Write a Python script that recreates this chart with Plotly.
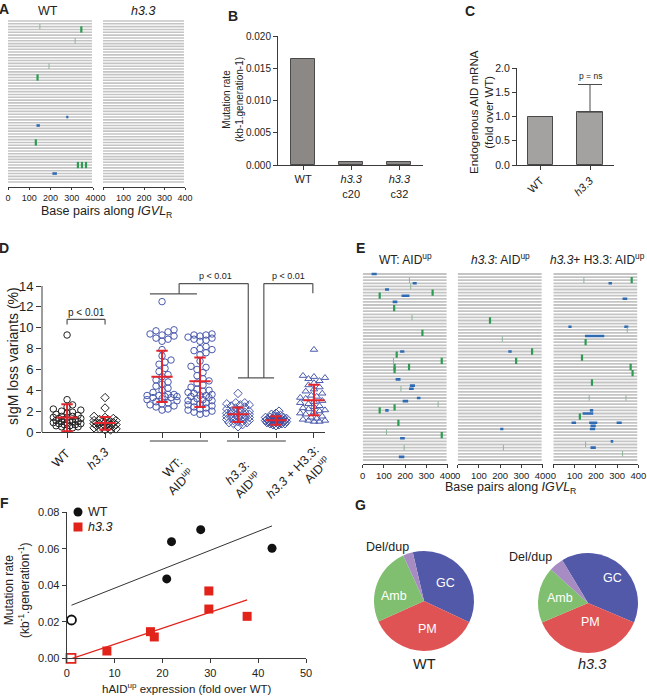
import numpy as np
import plotly.graph_objects as go

W, H = 647, 696
def fx(px): return px / W
def fy(py): return 1 - py / H

FONT = "Liberation Sans, Arial, Helvetica, sans-serif"
INK = "#222222"
AX = "#3a3a3a"
GRAY_SEQ = "#c4c4c4"
BLUE_MUT = "#2f6bb3"
GREEN_MUT = "#2d9c52"
TICK_MUT = "#8db596"

# ---------------- Panel A data ----------------
A_N_SEQ = 58
SEQ_LEN = 395
BP_TICKS = [0, 100, 200, 300, 400]
A_WT_BLUE_ROW = [34, 37, 54]
A_WT_BLUE_START = [274, 134, 209]
A_WT_BLUE_END = [284, 150, 230]
A_WT_GREEN_ROW = [3, 20, 43, 51, 51, 51]
A_WT_GREEN_POS = [345, 139, 131, 329, 348, 367]
A_WT_TICK_ROW = [2, 7, 16]
A_WT_TICK_POS = [150, 316, 193]
A_TITLES = ["WT", "<i>h3.3</i>"]

# ---------------- Panel B data ----------------
B_LABELS = ["WT", "<i>h3.3</i><br>c20", "<i>h3.3</i><br>c32"]
B_VALUES = [0.0164, 0.0005, 0.0004]
B_YTICKS = [0.0, 0.005, 0.010, 0.015, 0.020]

# ---------------- Panel C data ----------------
C_LABELS = ["WT", "<i>h3.3</i>"]
C_VALUES = [1.0, 1.09]
C_ERR_UP = [0.0, 0.57]
C_YTICKS = [0.0, 0.5, 1.0, 1.5, 2.0]

# ---------------- Panel D data ----------------
D_GROUP_X = [0, 1, 2.5, 3.5, 4.5, 5.5, 6.5]
D_WT = [9.3, 3.1, 2.6, 2.4, 2.2, 2.1, 2.0, 1.9, 1.8, 1.7, 1.6, 1.5, 1.5, 1.4, 1.4, 1.3, 1.3, 1.2,
        1.2, 1.1, 1.1, 1.0, 1.0, 1.0, 0.9, 0.9, 0.8, 0.8, 0.7, 0.7, 0.6, 0.6, 0.5, 0.5, 0.4, 0.3]
D_H33 = [3.3, 2.3, 1.5, 1.4, 1.3, 1.2, 1.2, 1.1, 1.1, 1.0, 1.0, 0.9, 0.9, 0.9, 0.8, 0.8, 0.8, 0.7,
         0.7, 0.6, 0.6, 0.5, 0.5, 0.4, 0.4, 0.3, 0.3, 0.2, 0.2]
D_WT_AID1 = [12.5, 9.8, 9.7, 9.6, 9.4, 9.3, 9.2, 9.0, 8.9, 8.7, 7.9, 7.3, 6.9, 6.7, 6.5, 6.1, 5.8,
             5.5, 5.3, 5.0, 4.8, 4.6, 4.4, 4.2, 4.0, 3.8, 3.6, 3.6, 3.5, 3.5, 3.4, 3.4, 3.3, 3.3,
             3.2, 3.1, 3.0, 2.9, 2.8, 2.7, 2.6, 2.5, 2.4, 2.2, 2.1]
D_WT_AID2 = [9.4, 9.3, 9.3, 9.2, 9.1, 9.0, 8.9, 8.8, 8.7, 8.2, 8.0, 7.9, 7.8, 7.6, 7.4, 6.8, 6.3,
             6.2, 6.0, 5.7, 5.4, 5.1, 4.9, 4.7, 4.5, 4.3, 4.1, 4.0, 3.9, 3.8, 3.7, 3.6, 3.5, 3.5,
             3.4, 3.3, 3.2, 3.1, 3.0, 3.0, 2.9, 2.8, 2.7, 2.6, 2.5, 2.4, 2.3, 2.2, 2.1, 2.0, 1.9,
             1.8, 1.7]
D_H33_AID1 = [3.7, 2.8, 2.8, 2.7, 2.6, 2.6, 2.5, 2.4, 2.3, 2.2, 2.1, 2.0, 2.0, 1.9, 1.9, 1.8, 1.8,
              1.7, 1.7, 1.6, 1.6, 1.5, 1.5, 1.4, 1.4, 1.3, 1.3, 1.2, 1.2, 1.1, 1.1, 1.0, 1.0, 0.9,
              0.9, 0.8, 0.7, 0.5]
D_H33_AID2 = [2.0, 1.8, 1.7, 1.6, 1.5, 1.5, 1.4, 1.4, 1.4, 1.3, 1.3, 1.3, 1.3, 1.2, 1.2, 1.2, 1.2,
              1.2, 1.1, 1.1, 1.1, 1.1, 1.1, 1.1, 1.0, 1.0, 1.0, 1.0, 1.0, 0.9, 0.9, 0.9, 0.9, 0.8,
              0.8, 0.8, 0.7, 0.7, 0.6]
D_RESCUE = [7.9, 5.4, 5.3, 5.2, 5.1, 4.9, 4.7, 4.5, 4.3, 4.1, 3.9, 3.7, 3.5, 3.4, 3.3, 3.2, 3.1,
            3.0, 2.9, 2.8, 2.7, 2.6, 2.5, 2.4, 2.3, 2.2, 2.1, 2.0, 1.9, 1.8, 1.7, 1.6, 1.5, 1.4,
            1.3, 1.2, 1.1, 1.1, 1.0, 1.0]
D_MEAN = [1.38, 0.87, 5.29, 4.87, 1.70, 1.12, 3.04]
D_SD_LO = [0.06, 0.22, 2.88, 2.40, 0.96, 0.70, 1.60]
D_SD_HI = [2.66, 1.44, 7.79, 7.15, 2.34, 1.50, 4.52]
D_LABELS = ["WT", "<i>h3.3</i>", "WT:<br>AID<sup>up</sup>", "<i>h3.3</i>:<br>AID<sup>up</sup>",
            "<i>h3.3</i> + H3.3:<br>AID<sup>up</sup>"]
D_LABEL_X = [0, 1, 3, 5, 6.5]
D_YTICKS = [0, 2, 4, 6, 8, 10, 12, 14]

# ---------------- Panel E data ----------------
E_N_SEQ = 61
E_TITLES = ["WT: AID<sup>up</sup>", "<i>h3.3</i>: AID<sup>up</sup>", "<i>h3.3</i>+ H3.3: AID<sup>up</sup>"]
E1_BLUE_ROW = [0, 3, 5, 7, 9, 25, 34, 36, 37, 40, 41, 44, 53, 59]
E1_BLUE_START = [42, 235, 105, 183, 141, 176, 155, 222, 218, 255, 188, 106, 176, 170]
E1_BLUE_END = [66, 254, 124, 220, 163, 196, 178, 246, 240, 272, 214, 122, 198, 196]
E1_GREEN_ROW = [6, 7, 11, 19, 26, 28, 30, 30, 31, 43, 44, 48, 52]
E1_GREEN_POS = [329, 80, 148, 281, 160, 372, 150, 218, 150, 150, 80, 168, 372]
E1_TICK_ROW = [2, 4, 14, 28, 37, 42, 51, 56]
E1_TICK_POS = [220, 226, 232, 145, 180, 355, 112, 195]
E2_BLUE_ROW = [25, 50]
E2_BLUE_START = [238, 200]
E2_BLUE_END = [254, 215]
E2_GREEN_ROW = [15, 25, 28]
E2_GREEN_POS = [152, 350, 275]
E2_TICK_ROW = [21, 56]
E2_TICK_POS = [210, 215]
E3_BLUE_ROW = [3, 8, 17, 17, 20, 44, 45, 48, 48, 48, 49, 50, 54, 56]
E3_BLUE_START = [260, 326, 71, 334, 149, 172, 138, 86, 169, 298, 175, 172, 270, 175]
E3_BLUE_END = [276, 348, 86, 353, 240, 188, 188, 107, 207, 322, 200, 197, 282, 200]
E3_GREEN_ROW = [2, 22, 27, 30, 32, 35, 46]
E3_GREEN_POS = [369, 152, 135, 364, 373, 182, 125]
E3_TICK_ROW = [2, 18, 40, 40, 55, 58]
E3_TICK_POS = [144, 348, 169, 342, 152, 326]

# ---------------- Panel F data ----------------
F_WT_X = [20.9, 21.9, 28.0, 42.9]
F_WT_Y = [0.0435, 0.0639, 0.0705, 0.0603]
F_WT0_X = [1.0]
F_WT0_Y = [0.021]
F_H33_X = [8.4, 17.5, 18.3, 29.7, 29.7, 37.7]
F_H33_Y = [0.0040, 0.0146, 0.0117, 0.0369, 0.0270, 0.0230]
F_H330_X = [0.9]
F_H330_Y = [0.0]
F_XTICKS = [0, 10, 20, 30, 40, 50]
F_YTICKS = [0.0, 0.02, 0.04, 0.06, 0.08]

# ---------------- Panel G data ----------------
G_LABELS = ["GC", "PM", "Amb", "Del/dup"]
G_WT = [35.6, 36.3, 24.9, 3.2]
G_H33 = [40.0, 37.2, 18.1, 4.7]
G_COLORS = ["#5259a8", "#e05355", "#7fbf6f", "#a78cc4"]

# ============ layout helpers ============
layout_axes = {}

def add_axes(i, xdom, ydom, xr, yr, xkw=None, ykw=None):
    sx = '' if i == 1 else str(i)
    base = dict(showgrid=False, zeroline=False, linecolor=AX, linewidth=1, ticks='outside',
                tickcolor=AX, tickwidth=1, ticklen=3, showline=True, autorange=False, automargin=False,
                tickfont=dict(size=9, color=INK, family=FONT))
    xa = dict(base)
    xa.update(domain=[fx(xdom[0]), fx(xdom[1])], range=xr, anchor='y' + sx)
    ya = dict(base)
    ya.update(domain=[fy(ydom[1]), fy(ydom[0])], range=yr, anchor='x' + sx)
    if xkw:
        xa.update(xkw)
    if ykw:
        ya.update(ykw)
    layout_axes['xaxis' + sx] = xa
    layout_axes['yaxis' + sx] = ya

def tf(size):
    return dict(size=size, color=INK, family=FONT)

# A: sequences rows 0..57 between y=21 and y=182 px, axis at y=187
A_YR = [57 + 5.0 / 2.825, -6.0 / 2.825]
add_axes(1, (8, 93), (15, 187), [0, 400], A_YR, dict(tickvals=BP_TICKS, ticklen=2), dict(visible=False))
add_axes(2, (103, 185), (15, 187), [0, 400], A_YR, dict(tickvals=BP_TICKS, ticklen=2), dict(visible=False))
add_axes(3, (278, 423), (36, 165), [-0.52, 2.49], [0, 0.02],
         dict(tickvals=[0, 1, 2], ticktext=B_LABELS, ticklen=4, tickfont=tf(11)),
         dict(tickvals=B_YTICKS, tickformat='.3f', ticklen=4, tickfont=tf(10)))
add_axes(4, (517, 614), (68, 165), [-0.475, 1.485], [0, 2],
         dict(tickvals=[0, 1], ticktext=C_LABELS, tickangle=-45, ticklen=4, tickfont=tf(11)),
         dict(tickvals=C_YTICKS, tickformat='.1f', ticklen=4, tickfont=tf(10.5)))
add_axes(5, (42, 325), (271.4, 432), [-0.66, 6.79], [0, 15.4],
         dict(tickvals=D_GROUP_X, showticklabels=False, ticklen=5),
         dict(tickvals=D_YTICKS, showline=False, ticklen=5, tickfont=tf(13)))
add_axes(6, (362.7, 447.7), (268, 464), [0, 400], [61.29, -1.935], dict(tickvals=BP_TICKS, tickfont=tf(9.5)), dict(visible=False))
add_axes(7, (457.7, 542.7), (268, 464), [0, 400], [61.29, -1.935], dict(tickvals=BP_TICKS, tickfont=tf(9.5)), dict(visible=False))
add_axes(8, (553.3, 638.3), (268, 464), [0, 400], [61.29, -1.935], dict(tickvals=BP_TICKS, tickfont=tf(9.5)), dict(visible=False))
add_axes(9, (66.7, 306), (512.3, 658.3), [0, 50], [0, 0.08],
         dict(tickvals=F_XTICKS, ticklen=4, tickfont=tf(11)),
         dict(tickvals=F_YTICKS, tickformat='.2f', ticklen=4, tickfont=tf(11)))

traces = []

def seq_panel(ax, n_seq, brow, bstart, bend, grow, gpos, trow, tpos):
    xs, ys = [], []
    for r in range(n_seq):
        xs += [0, SEQ_LEN, None]
        ys += [r, r, None]
    xa = 'x' if ax == 1 else 'x%d' % ax
    ya = 'y' if ax == 1 else 'y%d' % ax
    lw = 1.6 if n_seq == A_N_SEQ else 1.8
    traces.append(go.Scatter(x=xs, y=ys, mode='lines', line=dict(color=GRAY_SEQ, width=lw),
                             xaxis=xa, yaxis=ya, hoverinfo='skip'))
    if brow:
        bx, by = [], []
        for r, s, e in zip(brow, bstart, bend):
            bx += [s, e, None]
            by += [r, r, None]
        traces.append(go.Scatter(x=bx, y=by, mode='lines', line=dict(color=BLUE_MUT, width=2.6),
                                 xaxis=xa, yaxis=ya, hoverinfo='skip'))
    if grow:
        traces.append(go.Scatter(x=gpos, y=grow, mode='markers',
                                 marker=dict(symbol='line-ns', size=4.5, line=dict(color=GREEN_MUT, width=2.2)),
                                 xaxis=xa, yaxis=ya, hoverinfo='skip'))
    if trow:
        traces.append(go.Scatter(x=tpos, y=trow, mode='markers',
                                 marker=dict(symbol='line-ns', size=4, line=dict(color=TICK_MUT, width=1)),
                                 xaxis=xa, yaxis=ya, hoverinfo='skip'))

seq_panel(1, A_N_SEQ, A_WT_BLUE_ROW, A_WT_BLUE_START, A_WT_BLUE_END, A_WT_GREEN_ROW, A_WT_GREEN_POS, A_WT_TICK_ROW, A_WT_TICK_POS)
seq_panel(2, A_N_SEQ, [], [], [], [], [], [], [])
seq_panel(6, E_N_SEQ, E1_BLUE_ROW, E1_BLUE_START, E1_BLUE_END, E1_GREEN_ROW, E1_GREEN_POS, E1_TICK_ROW, E1_TICK_POS)
seq_panel(7, E_N_SEQ, E2_BLUE_ROW, E2_BLUE_START, E2_BLUE_END, E2_GREEN_ROW, E2_GREEN_POS, E2_TICK_ROW, E2_TICK_POS)
seq_panel(8, E_N_SEQ, E3_BLUE_ROW, E3_BLUE_START, E3_BLUE_END, E3_GREEN_ROW, E3_GREEN_POS, E3_TICK_ROW, E3_TICK_POS)

# B bars
traces.append(go.Bar(x=[0, 1, 2], y=B_VALUES, width=0.5, marker=dict(color='#8c8886', line=dict(color='#4a4a4a', width=1)),
                     xaxis='x3', yaxis='y3', hoverinfo='skip'))
# C bars
traces.append(go.Bar(x=[0, 1], y=C_VALUES, width=0.51, marker=dict(color='#a4a2a1', line=dict(color='#4a4a4a', width=1)),
                     error_y=dict(type='data', symmetric=False, array=C_ERR_UP, arrayminus=[0, 0],
                                  color='#4a4a4a', thickness=1, width=12),
                     xaxis='x4', yaxis='y4', hoverinfo='skip'))

# D swarm
D_XPX, D_YPX = 38.0, 10.43

def swarm(vals, dmin, maxw):
    order = np.argsort(vals, kind='stable')
    placed = []
    offs = [0.0] * len(vals)
    cands = [0.0]
    k = 1
    while k * dmin * 0.5 <= maxw:
        cands += [k * dmin * 0.5, -k * dmin * 0.5]
        k += 1
    for i in order:
        y = vals[i] * D_YPX
        chosen = None
        for c in cands:
            if all((c - px) ** 2 + (y - py) ** 2 >= dmin * dmin for px, py in placed):
                chosen = c
                break
        if chosen is None:
            best = -1
            for c in cands:
                dd = min([(c - px) ** 2 + (y - py) ** 2 for px, py in placed] + [1e9])
                if dd > best:
                    best, chosen = dd, c
        placed.append((chosen, y))
        offs[i] = chosen / D_XPX
    return offs

D_BLUE = '#4a5aad'
groups = [
    (D_WT, 'circle-open', '#222222', 5.5, 14),
    (D_H33, 'diamond-open', '#222222', 5.5, 12),
    (D_WT_AID1, 'circle-open', D_BLUE, 6.0, 16),
    (D_WT_AID2, 'circle-open', D_BLUE, 6.0, 14),
    (D_H33_AID1, 'diamond-open', D_BLUE, 4.5, 13),
    (D_H33_AID2, 'diamond-open', '#3d4c9e', 3.0, 11),
    (D_RESCUE, 'triangle-up-open', D_BLUE, 5.5, 14),
]
for gx, (vals, sym, col, dmin, maxw) in zip(D_GROUP_X, groups):
    offs = swarm(vals, dmin, maxw)
    traces.append(go.Scatter(x=[gx + o for o in offs], y=vals, mode='markers', cliponaxis=False,
                             marker=dict(symbol=sym, size=6.5, color=col, line=dict(width=1, color=col)),
                             xaxis='x5', yaxis='y5', hoverinfo='skip'))
rx, ry = [], []
for gx, m, lo, hi in zip(D_GROUP_X, D_MEAN, D_SD_LO, D_SD_HI):
    rx += [gx - 0.28, gx + 0.28, None, gx, gx, None, gx - 0.15, gx + 0.15, None, gx - 0.15, gx + 0.15, None]
    ry += [m, m, None, lo, hi, None, lo, lo, None, hi, hi, None]
traces.append(go.Scatter(x=rx, y=ry, mode='lines', line=dict(color='#e3262d', width=2), cliponaxis=False,
                         xaxis='x5', yaxis='y5', hoverinfo='skip'))

# F
def fit_line(xs, ys):
    slope, icpt = np.polyfit(xs, ys, 1)
    x0, x1 = min(xs), max(xs)
    return [x0, x1], [slope * x0 + icpt, slope * x1 + icpt]

lx, ly = fit_line(F_WT0_X + F_WT_X, F_WT0_Y + F_WT_Y)
traces.append(go.Scatter(x=lx, y=ly, mode='lines', line=dict(color='#333333', width=1), xaxis='x9', yaxis='y9', hoverinfo='skip'))
lx, ly = fit_line(F_H330_X + F_H33_X, F_H330_Y + F_H33_Y)
traces.append(go.Scatter(x=lx, y=ly, mode='lines', line=dict(color='#e2231a', width=1.2), xaxis='x9', yaxis='y9', hoverinfo='skip'))
traces.append(go.Scatter(x=F_WT_X, y=F_WT_Y, mode='markers', marker=dict(symbol='circle', size=9, color='#111111'),
                         xaxis='x9', yaxis='y9', cliponaxis=False, hoverinfo='skip'))
traces.append(go.Scatter(x=F_WT0_X, y=F_WT0_Y, mode='markers',
                         marker=dict(symbol='circle-open', size=9, color='#111111', line=dict(width=1.8, color='#111111')),
                         xaxis='x9', yaxis='y9', cliponaxis=False, hoverinfo='skip'))
traces.append(go.Scatter(x=F_H33_X, y=F_H33_Y, mode='markers', marker=dict(symbol='square', size=9, color='#e2231a'),
                         xaxis='x9', yaxis='y9', cliponaxis=False, hoverinfo='skip'))
traces.append(go.Scatter(x=F_H330_X, y=F_H330_Y, mode='markers',
                         marker=dict(symbol='square-open', size=9, color='#e2231a', line=dict(width=1.8, color='#e2231a')),
                         xaxis='x9', yaxis='y9', cliponaxis=False, hoverinfo='skip'))

# G pies
traces.append(go.Pie(values=G_WT, labels=G_LABELS, marker=dict(colors=G_COLORS, line=dict(width=0)), sort=False,
                     direction='clockwise', rotation=-13, textinfo='none', hoverinfo='skip', showlegend=False,
                     domain=dict(x=[fx(374), fx(474)], y=[fy(651), fy(551)])))
traces.append(go.Pie(values=G_H33, labels=G_LABELS, marker=dict(colors=G_COLORS, line=dict(width=0)), sort=False,
                     direction='clockwise', rotation=-31, textinfo='none', hoverinfo='skip', showlegend=False,
                     domain=dict(x=[fx(538), fx(638)], y=[fy(653), fy(553)])))

# ============ annotations ============
def ann(text, x, y, size=12, xanchor='center', yanchor='middle', angle=0, color=INK, align='center'):
    return dict(text=text, x=fx(x), y=fy(y), xref='paper', yref='paper', showarrow=False,
                font=dict(size=size, color=color, family=FONT), xanchor=xanchor, yanchor=yanchor,
                textangle=angle, align=align)

annotations = []
for letter, (x, y) in zip("ABCDEFG", [(4, 9), (233, 16), (470, 11), (4, 248), (360, 248), (4, 503), (360, 505)]):
    annotations.append(ann('<b>%s</b>' % letter, x, y, size=14))
# A
annotations.append(ann(A_TITLES[0], 48, 11, size=12.5))
annotations.append(ann(A_TITLES[1], 143, 11, size=12.5))
annotations.append(ann('Base pairs along <i>IGVL</i><sub>R</sub>', 106, 212, size=12.5))
# B
annotations.append(ann('Mutation rate<br>(kb-1.generation-1)', 233, 100, size=10, angle=-90))
# C
annotations.append(ann('Endogenous AID mRNA<br>(fold over WT)', 481, 112, size=11.5, angle=-90))
annotations.append(dict(text='p = ns', x=1, y=C_VALUES[1] + C_ERR_UP[1], xref='x4', yref='y4', showarrow=False,
                        yanchor='bottom', yshift=1, font=dict(size=8.5, color=INK, family=FONT)))
# D
annotations.append(ann('sIgM loss variants (%)', 13, 356, size=14, angle=-90))
label_pos = [(9, 443), (9, 443), (19, 452), (10, 455), (22, 440)]
for lab, lxv, (dx, py) in zip(D_LABELS, D_LABEL_X, label_pos):
    annotations.append(dict(text=lab, x=lxv, xref='x5', xshift=dx, y=fy(py), yref='paper', showarrow=False,
                            xanchor='right', yanchor='top', textangle=-45, align='right',
                            font=dict(size=12.5, color=INK, family=FONT)))
for txt, x, y, size in [('p < 0.01', 0.5, 11.5, 10), ('p < 0.01', 3.9, 15.0, 9), ('p < 0.01', 5.84, 15.0, 9)]:
    annotations.append(dict(text=txt, x=x, y=y, xref='x5', yref='y5', showarrow=False,
                            font=dict(size=size, color=INK, family=FONT)))
# E
for t, x in zip(E_TITLES, [405, 500, 597]):
    annotations.append(ann(t, x, 259, size=12))
annotations.append(ann('Base pairs along <i>IGVL</i><sub>R</sub>', 510, 488, size=12.5))
# F
annotations.append(ann('Mutation rate<br>(kb<sup>-1</sup>.generation<sup>-1</sup>)', 17, 590, size=12, angle=-90))
annotations.append(ann('hAID<sup>up</sup> expression (fold over WT)', 187, 688, size=11.5))
annotations.append(ann('WT', 86, 512, size=12.5, xanchor='left'))
annotations.append(ann('<i>h3.3</i>', 86, 527, size=12.5, xanchor='left'))
# G
for t, x, y, c in [('GC', 445, 583, 'white'), ('Amb', 394, 596, 'white'), ('PM', 427, 629, 'white'),
                   ('GC', 612, 578, 'white'), ('Amb', 560, 598, 'white'), ('PM', 590, 622, 'white')]:
    annotations.append(ann(t, x, y, size=12.5, color=c))
annotations.append(ann('Del/dup', 387, 547, size=12.5))
annotations.append(ann('Del/dup', 530, 557, size=12.5))
annotations.append(ann('WT', 424, 664, size=14.5))
annotations.append(ann('<i>h3.3</i>', 592, 664, size=14.5))

# ============ shapes ============
LINE = dict(color='#555555', width=1.2)
shapes = []
def dline(x0, y0, x1, y1):
    shapes.append(dict(type='line', xref='x5', yref='y5', x0=x0, y0=y0, x1=x1, y1=y1, line=LINE))
# D y-axis line only up to 14
shapes.append(dict(type='line', xref='x5 domain', yref='y5', x0=0, x1=0, y0=0, y1=14, line=dict(color=AX, width=1)))
# bracket WT vs h3.3
dline(0, 10.3, 0, 10.8); dline(0, 10.8, 1, 10.8); dline(1, 10.8, 1, 10.3)
# bracket WT:AIDup vs h3.3:AIDup
dline(2.18, 13.24, 3.42, 13.24); dline(2.95, 13.24, 2.95, 14.23); dline(2.95, 14.23, 4.77, 14.23)
dline(4.77, 14.23, 4.77, 5.19); dline(4.5, 5.19, 5.45, 5.19)
# bracket h3.3:AIDup vs rescue
dline(5.18, 5.19, 5.18, 14.23); dline(5.18, 14.23, 6.47, 14.23); dline(6.47, 14.23, 6.47, 13.3)
# group underlines below D axis
for x0, x1 in [(2.18, 3.71), (4.21, 5.76)]:
    shapes.append(dict(type='line', xref='x5', yref='paper', x0=x0, x1=x1, y0=fy(441), y1=fy(441),
                       line=dict(color=AX, width=1)))
# F legend symbols
shapes.append(dict(type='circle', xref='paper', yref='paper', x0=fx(73.5), x1=fx(82.5), y0=fy(516.5), y1=fy(507.5),
                   fillcolor='#111111', line=dict(width=0)))
shapes.append(dict(type='rect', xref='paper', yref='paper', x0=fx(73.5), x1=fx(82.5), y0=fy(531.5), y1=fy(522.5),
                   fillcolor='#e2231a', line=dict(width=0)))

fig = go.Figure(data=traces)
fig.update_layout(template='none', width=W, height=H, autosize=False, margin=dict(l=0, r=0, t=0, b=0, pad=0),
                  paper_bgcolor='white', plot_bgcolor='white', showlegend=False, bargap=0,
                  font=dict(family=FONT, color=INK), annotations=annotations, shapes=shapes,
                  hovermode=False, **layout_axes)
fig.write_html("out.html", config={'displayModeBar': False},
               post_script="document.body.style.margin='0px';document.body.style.padding='0px';document.body.style.overflow='hidden';")
